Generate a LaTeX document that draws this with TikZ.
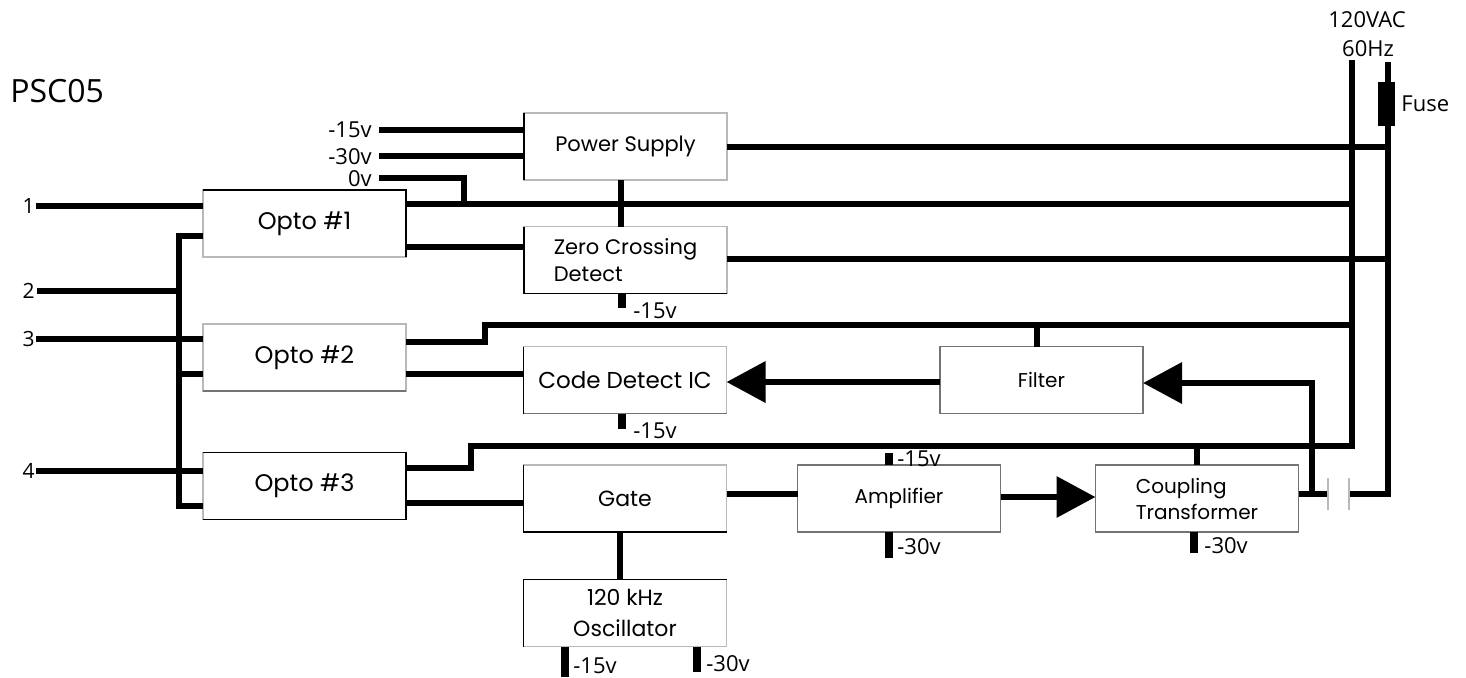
\documentclass[tikz,border=0pt]{standalone}
\usepackage{fontspec}
\setmainfont{Poppins}
\newfontfamily\labfont{Open Sans}
\usetikzlibrary{arrows.meta}
\begin{document}
\begin{tikzpicture}[x=0.5pt,y=-0.5pt,
  box/.style={draw=gray!55, line width=0.7pt, fill=white, minimum width=101.5pt,
    minimum height=33.5pt, inner sep=0pt, outer sep=0pt, font=\fontsize{12}{13.5}\selectfont},
  wire/.style={line width=3.3pt},
  stub/.style={line width=3.6pt},
  edgeblk/.style={line width=0.9pt, black},
  plate/.style={line width=1pt, gray!55},
  volt/.style={font=\labfont\fontsize{11}{12}\selectfont, inner sep=0pt, anchor=west},
  numlab/.style={font=\labfont\fontsize{10.5}{12}\selectfont, inner sep=0pt, anchor=east},
  big/.style={-{Triangle[length=19.5pt,width=20pt]}}
]
\useasboundingbox (0,0) rectangle (1466,677);

% ---- boxes ----
\node[box] (opto1) at (304.5,223.5) {Opto \#1};
\node[box] (opto2) at (304.5,357.5) {Opto \#2};
\node[box] (opto3) at (304.5,486) {Opto \#3};
\node[box, font=\fontsize{10.5}{12}\selectfont] (ps) at (625.5,146.5) {Power Supply};
\node[box, align=left, font=\fontsize{10.5}{13.5}\selectfont] (zc) at (625.5,260) {Zero Crossing\\Detect};
\node[box, font=\fontsize{11.5}{13.5}\selectfont] (cd) at (625,380) {Code Detect IC};
\node[box, font=\fontsize{11}{13.5}\selectfont] (gate) at (625,498.5) {Gate};
\node[box, align=center, font=\fontsize{11}{15.5}\selectfont] (osc) at (625,613) {120 kHz\\Oscillator};
\node[box, font=\fontsize{10}{12}\selectfont] (filter) at (1041.5,380) {Filter};
\node[box, font=\fontsize{10}{12}\selectfont] (amp) at (899,498.5) {Amplifier};
\node[box, align=left, font=\fontsize{10}{13}\selectfont] (ct) at (1197,498.5) {Coupling\\Transformer};

% darker edges of boxes
\draw[edgeblk] (opto1.north west) -- (opto1.north east) -- (opto1.south east);
\draw[edgeblk] (ps.north west) -- (ps.south west);
\draw[edgeblk] (zc.north west) -- (zc.south west) -- (zc.south east);
\draw[edgeblk, gray!90!black] (opto2.south west) -- (opto2.south east);
\draw[edgeblk] (cd.north west) -- (cd.south west);
\draw[edgeblk, gray!90!black] (cd.south west) -- (cd.south east);
\draw[edgeblk, gray!90!black] (filter.north west) rectangle (filter.south east);
\draw[edgeblk] (opto3.north west) -- (opto3.north east) -- (opto3.south east) -- (opto3.south west);
\draw[edgeblk] (gate.north west) -- (gate.south west) -- (gate.south east);
\draw[edgeblk, gray!90!black] (amp.north west) rectangle (amp.south east);
\draw[edgeblk, gray!90!black] (ct.north west) rectangle (ct.south east);
\draw[edgeblk] (osc.south west) -- (osc.north west) -- (osc.north east);

% ---- text labels ----
\node[font=\labfont\fontsize{16}{18}\selectfont, inner sep=0pt, anchor=west] (title) at (10,91) {PSC05};
\node[font=\labfont\fontsize{11}{12}\selectfont, inner sep=0pt] (vac) at (1367,20) {120VAC};
\node[font=\labfont\fontsize{11}{12}\selectfont, inner sep=0pt] (hz) at (1368,49) {60Hz};

\node[numlab] (n1) at (35,206) {1};
\node[numlab] (n2) at (35,291) {2};
\node[numlab] (n3) at (35,339) {3};
\node[numlab] (n4) at (35,471) {4};

\node[volt, anchor=east] (v15) at (372,130) {-15v};
\node[volt, anchor=east] (v30) at (372,157) {-30v};
\node[volt, anchor=east] (v0) at (372,179) {0v};

% ---- AC lines and fuse ----
\coordinate (Ltop) at (1352,60);
\coordinate (Lbot) at (1352,446);
\coordinate (Rtop) at (1388,62);
\coordinate (Rbot) at (1388,494);
\node[fill=black, minimum width=8.5pt, minimum height=22pt, inner sep=0pt] (fuse) at (1386.5,104) {};
\node[font=\labfont\fontsize{11}{12}\selectfont, inner sep=0pt, anchor=west] (fuselab) at (1401,104) {Fuse};

\draw[wire] (Rtop) -- (Rbot) -- (1349,494);
\draw[wire] (opto3.east |- 0,468) -- (471,468) -- (471,446) -- (Lbot) -- (Ltop);

% ---- inputs ----
\draw[wire] (n1.east) ++(1,0) -- (opto1.west |- 0,206);
\draw[wire] (n2.east) ++(2,0) -- (179,291);
\draw[wire] (n3.east) ++(1,0) -- (opto2.west |- 0,339);
\draw[wire] (n4.east) ++(1,0) -- (opto3.west |- 0,471);
\draw[wire] (opto1.west |- 0,236) -- (179,236) -- (179,506) -- (opto3.west |- 0,506);
\draw[wire] (179,374) -- (opto2.west |- 0,374);

% ---- power supply ----
\draw[wire] (379,130) -- (ps.west |- 0,130);
\draw[wire] (379,156) -- (ps.west |- 0,156);
\draw[wire] (379,178) -- (464,178) -- (464,204);
\draw[wire] (ps.east |- 0,147) -- (1388,147);
\draw[wire] (ps.south -| 621,0) -- (zc.north -| 621,0);

% ---- opto 1 ----
\draw[wire] (opto1.east |- 0,204) -- (1352,204);
\draw[wire] (opto1.east |- 0,247) -- (zc.west |- 0,247);
\draw[wire] (zc.east |- 0,259) -- (1388,259);
\draw[stub] (zc.south -| 622,0) -- (622,308);
\node[volt] (vzc) at (633,311) {-15v};

% ---- opto 2 ----
\draw[wire] (opto2.east |- 0,342) -- (485,342) -- (485,325) -- (1352,325);
\draw[wire] (filter.north -| 1037,0) -- (1037,325);
\draw[wire] (opto2.east |- 0,374) -- (cd.west |- 0,374);
\draw[wire, big] (filter.west |- 0,382) -- (cd.east |- 0,382);
\draw[stub] (cd.south -| 622,0) -- (622,429);
\node[volt] (vcd) at (633,431) {-15v};

% ---- opto 3 / gate / amp / ct ----
\draw[wire] (opto3.east |- 0,503) -- (gate.west |- 0,503);
\draw[wire] (ct.north -| 1197,0) -- (1197,446);
\draw[wire] (gate.east |- 0,494) -- (amp.west |- 0,494);
\draw[wire, big] (amp.east |- 0,497) -- (ct.west |- 0,497);
\draw[wire] (ct.east |- 0,494) -- (1328,494);
\draw[wire, big] (1312,494) -- (1312,383) -- (filter.east |- 0,383);
\draw[plate] (1328,478) -- (1328,510);
\draw[plate] (1349,478) -- (1349,510);
\draw[wire] (gate.south -| 620,0) -- (osc.north -| 620,0);

\draw[stub] (amp.north -| 889,0) -- (889,453);
\node[volt] (vamp1) at (897,459) {-15v};
\draw[stub] (amp.south -| 889,0) -- (889,558);
\node[volt] (vamp2) at (897,547) {-30v};
\draw[stub] (ct.south -| 1194,0) -- (1194,553);
\node[volt] (vct) at (1204,546) {-30v};
\draw[stub] (osc.south -| 565,0) -- (565,677);
\node[volt] (vosc1) at (573,666) {-15v};
\draw[stub] (osc.south -| 697,0) -- (697,672);
\node[volt] (vosc2) at (706,664) {-30v};
\end{tikzpicture}
\end{document}
